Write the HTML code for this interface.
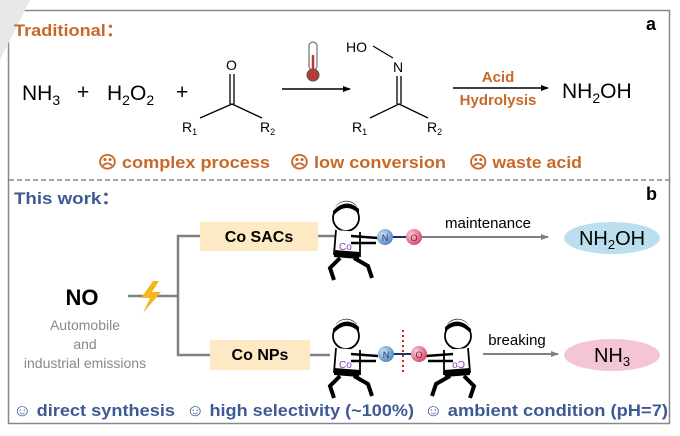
<!DOCTYPE html>
<html><head><meta charset="utf-8"><style>
html,body{margin:0;padding:0;background:#fff}
svg{display:block}
text{font-family:"Liberation Sans",Arial,sans-serif}
</style></head><body>
<svg width="680" height="436" viewBox="0 0 680 436" xmlns="http://www.w3.org/2000/svg">
<defs>
<marker id="ah" markerWidth="8" markerHeight="8" refX="7" refY="4" orient="auto" markerUnits="userSpaceOnUse"><path d="M0,1 L8,4 L0,7 Z" fill="#000"/></marker>
<marker id="ag" markerWidth="8" markerHeight="8" refX="7" refY="4" orient="auto" markerUnits="userSpaceOnUse"><path d="M0,1 L8,4 L0,7 Z" fill="#808080"/></marker>
<radialGradient id="gn" cx="0.35" cy="0.35" r="0.7"><stop offset="0" stop-color="#cfe3f5"/><stop offset="1" stop-color="#4d85c2"/></radialGradient>
<radialGradient id="go" cx="0.35" cy="0.35" r="0.7"><stop offset="0" stop-color="#f8d0da"/><stop offset="1" stop-color="#d9476a"/></radialGradient>
<g id="fig">
<circle cx="0" cy="0" r="13" fill="#fff" stroke="#000" stroke-width="1.8"/>
<path d="M-13,-2 Q0,-17 13,-4 L13,-9 Q0,-21 -13,-7 Z" fill="#000"/>
<path d="M-12,-8 A13,13 0 0 1 12,-9 L10,-13 A13,13 0 0 0 -10,-12 Z" fill="#222"/>
<path d="M-10,12 L-12,36 L14,38 L14,14" fill="#fff" stroke="#000" stroke-width="1.8"/>
<path d="M-12,32 L14,34 L13,41 L-12,39 Z" fill="#000"/>
<path d="M5,18 L32,20 M5,25 L30,25" stroke="#000" stroke-width="2.5"/>
<path d="M-6,40 L-16,50 L-12,62 M8,40 L22,48 L26,60" stroke="#000" stroke-width="4" fill="none"/>
<text x="-7" y="32" font-size="10" fill="#8a3bbf">Co</text>
</g>
</defs>
<rect x="8.5" y="10.5" width="661" height="413" fill="none" stroke="#888" stroke-width="1.5"/>
<line x1="9" y1="180" x2="669" y2="180" stroke="#888" stroke-width="1.5" stroke-dasharray="5,3"/>
<polygon points="0,0 30,0 0,60" fill="#e8e8e8"/>
<text x="14" y="36" font-size="17" font-weight="bold" fill="#c8692a" textLength="110" lengthAdjust="spacingAndGlyphs">Traditional：</text>
<text x="646" y="30" font-size="18" font-weight="bold">a</text>
<text x="22" y="100" font-size="21">NH<tspan font-size="14" dy="5">3</tspan></text>
<text x="77" y="99" font-size="21">+</text>
<text x="107" y="100" font-size="21">H<tspan font-size="14" dy="5">2</tspan><tspan dy="-5">O</tspan><tspan font-size="14" dy="5">2</tspan></text>
<text x="176" y="99" font-size="21">+</text>
<text x="226" y="70" font-size="14">O</text>
<line x1="230" y1="74" x2="230" y2="104" stroke="#000" stroke-width="1.3"/>
<line x1="234" y1="74" x2="234" y2="104" stroke="#000" stroke-width="1.3"/>
<path d="M200,118 L232,104 L262,118" fill="none" stroke="#000" stroke-width="1.3"/>
<text x="182" y="132" font-size="14">R<tspan font-size="9" dy="3">1</tspan></text>
<text x="260" y="132" font-size="14">R<tspan font-size="9" dy="3">2</tspan></text>
<line x1="282" y1="89" x2="350" y2="89" stroke="#000" stroke-width="1.5" marker-end="url(#ah)"/>
<rect x="309" y="42" width="8" height="28" rx="4" fill="#fff" stroke="#555" stroke-width="1"/>
<circle cx="313" cy="75" r="6" fill="#b53a3a" stroke="#555" stroke-width="1"/>
<line x1="313" y1="55" x2="313" y2="72" stroke="#b53a3a" stroke-width="2.5"/>
<text x="346" y="52" font-size="14">HO</text>
<line x1="373" y1="46" x2="393" y2="58" stroke="#000" stroke-width="1.2"/>
<text x="393" y="72" font-size="14">N</text>
<line x1="397" y1="76" x2="397" y2="104" stroke="#000" stroke-width="1.3"/>
<line x1="401" y1="76" x2="401" y2="104" stroke="#000" stroke-width="1.3"/>
<path d="M370,118 L399,104 L428,118" fill="none" stroke="#000" stroke-width="1.3"/>
<text x="352" y="132" font-size="14">R<tspan font-size="9" dy="3">1</tspan></text>
<text x="427" y="132" font-size="14">R<tspan font-size="9" dy="3">2</tspan></text>
<line x1="453" y1="88" x2="548" y2="88" stroke="#000" stroke-width="1.5" marker-end="url(#ah)"/>
<text x="498" y="82" font-size="15" font-weight="bold" fill="#c8692a" text-anchor="middle">Acid</text>
<text x="498" y="105" font-size="15" font-weight="bold" fill="#c8692a" text-anchor="middle">Hydrolysis</text>
<text x="562" y="98" font-size="21">NH<tspan font-size="14" dy="5">2</tspan><tspan dy="-5">OH</tspan></text>
<text x="98" y="168" font-size="17" font-weight="bold" fill="#c8692a" textLength="172" lengthAdjust="spacingAndGlyphs">☹ complex process</text>
<text x="290" y="168" font-size="17" font-weight="bold" fill="#c8692a" textLength="156" lengthAdjust="spacingAndGlyphs">☹ low conversion</text>
<text x="469" y="168" font-size="17" font-weight="bold" fill="#c8692a" textLength="113" lengthAdjust="spacingAndGlyphs">☹ waste acid</text>
<text x="14" y="204" font-size="17" font-weight="bold" fill="#3d5a94" textLength="106" lengthAdjust="spacingAndGlyphs">This work：</text>
<text x="646" y="200" font-size="18" font-weight="bold">b</text>
<text x="82" y="305" font-size="22" font-weight="bold" text-anchor="middle">NO</text>
<text x="85" y="330" font-size="14" fill="#888" text-anchor="middle">Automobile</text>
<text x="85" y="349" font-size="14" fill="#888" text-anchor="middle">and</text>
<text x="85" y="368" font-size="14" fill="#888" text-anchor="middle">industrial emissions</text>
<g stroke="#808080" stroke-width="2.5" fill="none">
<line x1="128" y1="296" x2="178" y2="296"/>
<polyline points="200,236 178,236 178,355 212,355"/>
<line x1="318" y1="236" x2="335" y2="236"/>
<line x1="310" y1="355" x2="330" y2="355"/>
</g>
<path d="M153,281 L141,298 L150,298 L143,313 L161,292 L152,292 L159,281 Z" fill="#f5b81c"/>
<rect x="200" y="222" width="118" height="29" fill="#fde9c3"/>
<text x="259" y="242" font-size="16" font-weight="bold" text-anchor="middle">Co SACs</text>
<rect x="210" y="340" width="100" height="30" fill="#fde9c3"/>
<text x="260" y="360" font-size="16" font-weight="bold" text-anchor="middle">Co NPs</text>
<use href="#fig" x="346" y="218"/>
<use href="#fig" x="346" y="336"/>
<use href="#fig" transform="translate(458,336) scale(-1,1)"/>
<line x1="385" y1="237" x2="414" y2="237" stroke="#1f2f6a" stroke-width="2"/>
<circle cx="385" cy="237" r="8" fill="url(#gn)"/><text x="385" y="241" font-size="9" text-anchor="middle" fill="#1f2f6a">N</text>
<circle cx="414" cy="237" r="8" fill="url(#go)"/><text x="414" y="241" font-size="9" text-anchor="middle" fill="#7a1f33">O</text>
<line x1="422" y1="237" x2="548" y2="237" stroke="#808080" stroke-width="2" marker-end="url(#ag)"/>
<text x="488" y="228" font-size="15" text-anchor="middle">maintenance</text>
<ellipse cx="612" cy="238" rx="48" ry="16" fill="#bcdff0"/>
<text x="612" y="245" font-size="20" text-anchor="middle">NH<tspan font-size="13" dy="4">2</tspan><tspan dy="-4">OH</tspan></text>
<line x1="386" y1="354" x2="419" y2="354" stroke="#1f2f6a" stroke-width="2"/>
<line x1="403" y1="330" x2="403" y2="375" stroke="#d02020" stroke-width="2" stroke-dasharray="2,3"/>
<circle cx="386" cy="354" r="8" fill="url(#gn)"/><text x="386" y="358" font-size="9" text-anchor="middle" fill="#1f2f6a">N</text>
<circle cx="419" cy="354" r="8" fill="url(#go)"/><text x="419" y="358" font-size="9" text-anchor="middle" fill="#7a1f33">O</text>
<line x1="483" y1="354" x2="558" y2="354" stroke="#808080" stroke-width="2" marker-end="url(#ag)"/>
<text x="517" y="345" font-size="15" text-anchor="middle">breaking</text>
<ellipse cx="612" cy="355" rx="48" ry="16" fill="#f4c6d4"/>
<text x="612" y="362" font-size="20" text-anchor="middle">NH<tspan font-size="13" dy="4">3</tspan></text>
<text x="13" y="416" font-size="17" font-weight="bold" fill="#3d5a94" textLength="162" lengthAdjust="spacingAndGlyphs">☺ direct synthesis</text>
<text x="186" y="416" font-size="17" font-weight="bold" fill="#3d5a94" textLength="228" lengthAdjust="spacingAndGlyphs">☺ high selectivity (~100%)</text>
<text x="424" y="416" font-size="17" font-weight="bold" fill="#3d5a94" textLength="244" lengthAdjust="spacingAndGlyphs">☺ ambient condition (pH=7)</text>
</svg>
</body></html>
